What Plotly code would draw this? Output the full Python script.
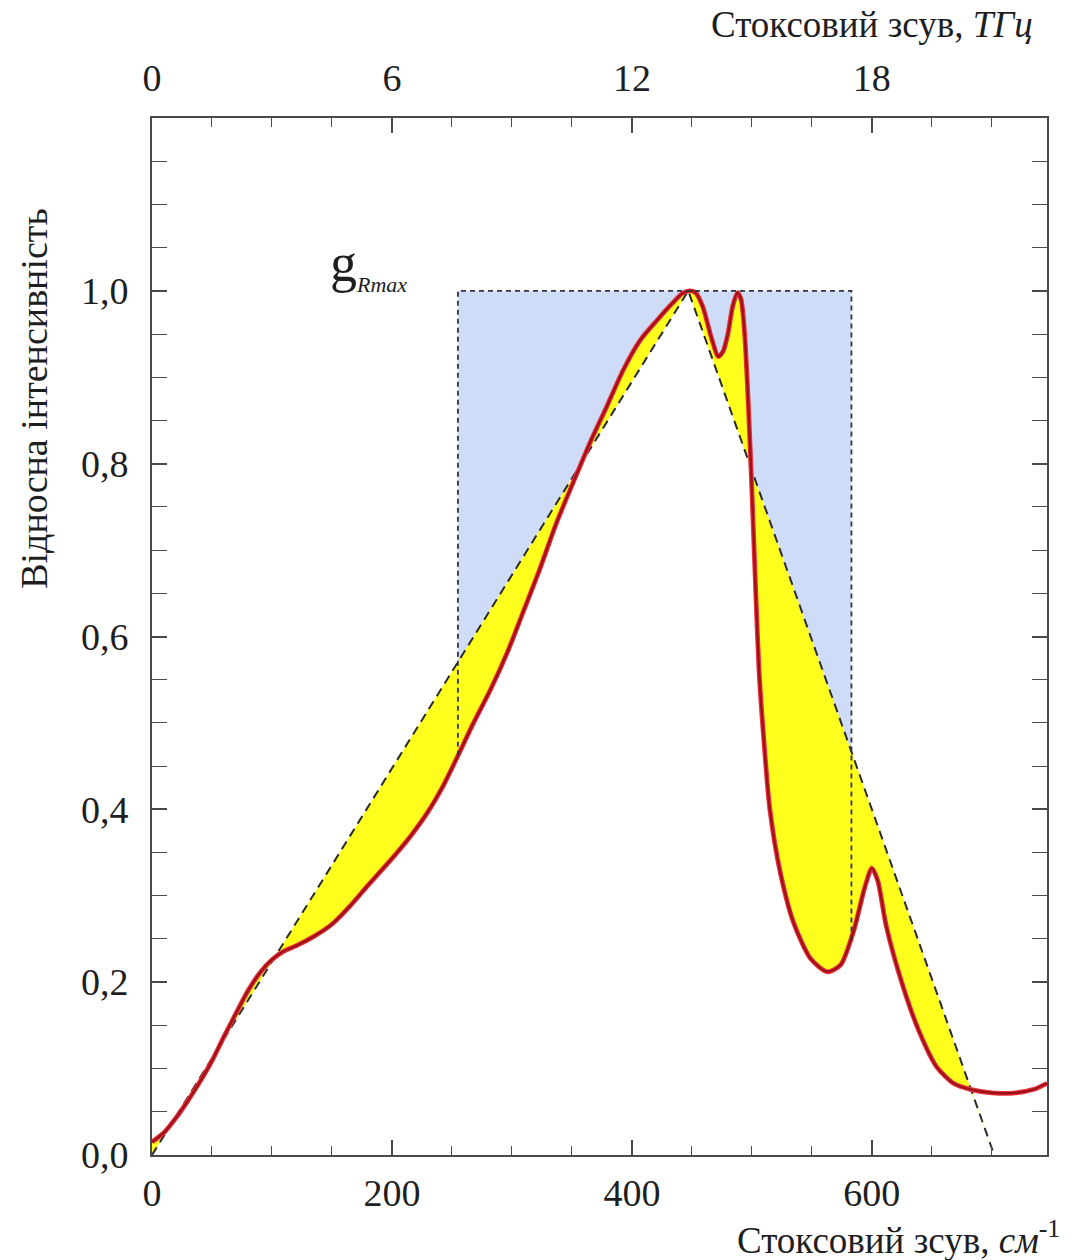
import plotly.graph_objects as go

# ---- data ----
wavenumber = [0, 10, 20, 30, 40, 50, 60, 70, 80, 90, 100, 110, 120, 135, 150, 165, 180, 200,
              215, 230, 243, 255, 268, 282, 296, 309, 323, 337, 351, 365, 379, 393, 407, 421,
              434, 442, 448, 453, 459, 466, 472, 476, 480, 484, 488, 491, 494, 497, 500, 503,
              506, 510, 515, 524, 535, 549, 563, 574, 585, 594, 600, 605, 612, 626, 640, 654,
              668, 682, 700, 720, 735, 746]
intensity = [0.015, 0.026, 0.043, 0.063, 0.085, 0.109, 0.137, 0.164, 0.190, 0.211, 0.226, 0.236,
             0.242, 0.253, 0.267, 0.288, 0.312, 0.343, 0.368, 0.397, 0.428, 0.462, 0.500, 0.538,
             0.581, 0.627, 0.677, 0.731, 0.778, 0.824, 0.866, 0.909, 0.943, 0.966, 0.986, 0.997,
             1.000, 0.998, 0.982, 0.947, 0.924, 0.930, 0.950, 0.982, 0.998, 0.990, 0.950, 0.870,
             0.770, 0.660, 0.560, 0.480, 0.400, 0.325, 0.268, 0.227, 0.212, 0.220, 0.260, 0.309,
             0.332, 0.317, 0.265, 0.195, 0.141, 0.102, 0.083, 0.076, 0.072, 0.072, 0.076, 0.083]

triangle_x = [0, 447, 702]
triangle_y = [0.0, 1.0, 0.0]

rect_x = [255, 583]
rect_top = 1.0
rect_bottom = [0.462, 0.245]   # where the dashed verticals meet the curve
yellow_end = 682               # where the curve meets the right leg of the triangle

x_ticks = [0, 200, 400, 600]
thz_ticks = [0, 6, 12, 18]
y_ticks = [0.0, 0.2, 0.4, 0.6, 0.8, 1.0]
y_ticklabels = ["0,0", "0,2", "0,4", "0,6", "0,8", "1,0"]

x_range = [0, 746]
y_range = [0, 1.2]
CM_PER_THZ = 200 / 6

FONT = "Liberation Serif"
AX = "#4a4a4a"
TXT = "#1e1e1e"

fig = go.Figure()

# blue g_Rmax rectangle
fig.add_trace(go.Scatter(
    x=[rect_x[0], rect_x[1], rect_x[1], rect_x[0], rect_x[0]],
    y=[0, 0, rect_top, rect_top, 0],
    fill="toself", fillcolor="#CFDCF7", mode="lines", line=dict(width=0),
    hoverinfo="skip", showlegend=False))
# white below the curve
fig.add_trace(go.Scatter(
    x=wavenumber, y=intensity, fill="tozeroy", fillcolor="white", mode="lines",
    line=dict(width=0, shape="spline", smoothing=0.7), hoverinfo="skip", showlegend=False))
# white below the triangle
fig.add_trace(go.Scatter(
    x=triangle_x, y=triangle_y, fill="toself", fillcolor="white", mode="lines",
    line=dict(width=0), hoverinfo="skip", showlegend=False))
# helper path for the yellow fill
fig.add_trace(go.Scatter(
    x=triangle_x, y=triangle_y, mode="lines", line=dict(width=0),
    hoverinfo="skip", showlegend=False))
# yellow area between curve and triangle
yx = [x for x in wavenumber if x <= yellow_end]
yy = intensity[:len(yx)]
fig.add_trace(go.Scatter(
    x=yx, y=yy, fill="tonexty", fillcolor="#FFFF1E", mode="lines",
    line=dict(width=0, shape="spline", smoothing=0.7), hoverinfo="skip", showlegend=False))
# dashed triangle
fig.add_trace(go.Scatter(
    x=triangle_x, y=triangle_y, mode="lines",
    line=dict(color="#2b2b2b", width=2, dash="9px,6px"), hoverinfo="skip", showlegend=False))
# red curve (outer glow + core)
fig.add_trace(go.Scatter(
    x=wavenumber, y=intensity, mode="lines",
    line=dict(color="#E8323C", width=4.8, shape="spline", smoothing=0.7),
    hoverinfo="skip", showlegend=False))
fig.add_trace(go.Scatter(
    x=wavenumber, y=intensity, mode="lines",
    line=dict(color="#9E1118", width=2.4, shape="spline", smoothing=0.7),
    hoverinfo="skip", showlegend=False))
# dashed rectangle outline
fig.add_trace(go.Scatter(
    x=[rect_x[0], rect_x[0], rect_x[1], rect_x[1]],
    y=[rect_bottom[0], rect_top, rect_top, rect_bottom[1]], mode="lines",
    line=dict(color="#2f3440", width=1.8, dash="5px,4px"), hoverinfo="skip", showlegend=False))
# invisible trace on the top (THz) axis
fig.add_trace(go.Scatter(
    x=[0], y=[0], xaxis="x2", mode="markers", marker=dict(opacity=0),
    hoverinfo="skip", showlegend=False))

tickfont = dict(family=FONT, size=38, color=TXT)

fig.update_layout(
    width=1081, height=1260,
    margin=dict(l=152, r=34, t=118, b=105),
    paper_bgcolor="white", plot_bgcolor="white",
    showlegend=False,
    xaxis=dict(
        range=x_range, tickvals=x_ticks, ticktext=[str(v) for v in x_ticks],
        ticks="inside", ticklen=15, tickwidth=1.5, tickcolor=AX,
        minor=dict(dtick=50, tick0=0, ticks="inside", ticklen=9, tickwidth=1.2, tickcolor=AX),
        showline=True, linecolor=AX, linewidth=1.6, mirror=False,
        showgrid=False, zeroline=False, tickfont=tickfont, ticklabelstandoff=4),
    xaxis2=dict(
        overlaying="x", side="top", anchor="y",
        range=[x_range[0] / CM_PER_THZ, x_range[1] / CM_PER_THZ],
        tickvals=thz_ticks, ticktext=[str(v) for v in thz_ticks],
        ticks="inside", ticklen=15, tickwidth=1.5, tickcolor=AX,
        minor=dict(dtick=1.5, tick0=0, ticks="inside", ticklen=9, tickwidth=1.2, tickcolor=AX),
        showline=True, linecolor=AX, linewidth=1.6,
        showgrid=False, zeroline=False, tickfont=tickfont, ticklabelstandoff=10),
    yaxis=dict(
        range=y_range, tickvals=y_ticks, ticktext=y_ticklabels,
        ticks="inside", ticklen=15, tickwidth=1.5, tickcolor=AX,
        minor=dict(dtick=0.05, tick0=0, ticks="inside", ticklen=9, tickwidth=1.2, tickcolor=AX),
        showline=True, linecolor=AX, linewidth=1.6, mirror="allticks",
        showgrid=False, zeroline=False, tickfont=tickfont, ticklabelstandoff=14),
    annotations=[
        dict(text="Відносна інтенсивність", textangle=-90, xref="paper", yref="paper",
             x=-0.132, y=0.730, xanchor="center", yanchor="middle", showarrow=False,
             font=dict(family=FONT, size=38, color=TXT)),
        dict(text="Стоксовий зсув, <i>ТГц</i>", xref="paper", yref="paper",
             x=0.9866, y=1.0897, xanchor="right", yanchor="middle", showarrow=False,
             font=dict(family=FONT, size=37, color=TXT)),
        dict(text="Стоксовий зсув, <i>см</i><sup>-1</sup>", xref="paper", yref="paper",
             x=1.0168, y=-0.0791, xanchor="right", yanchor="middle", showarrow=False,
             font=dict(family=FONT, size=37, color=TXT)),
        dict(text="g<sub><span style='font-size:22px'><i>Rmax</i></span></sub>",
             xref="x", yref="y", x=147, y=1.03, xanchor="left", yanchor="middle",
             showarrow=False, font=dict(family=FONT, size=54, color=TXT)),
    ],
)

fig.write_html("out.html")
